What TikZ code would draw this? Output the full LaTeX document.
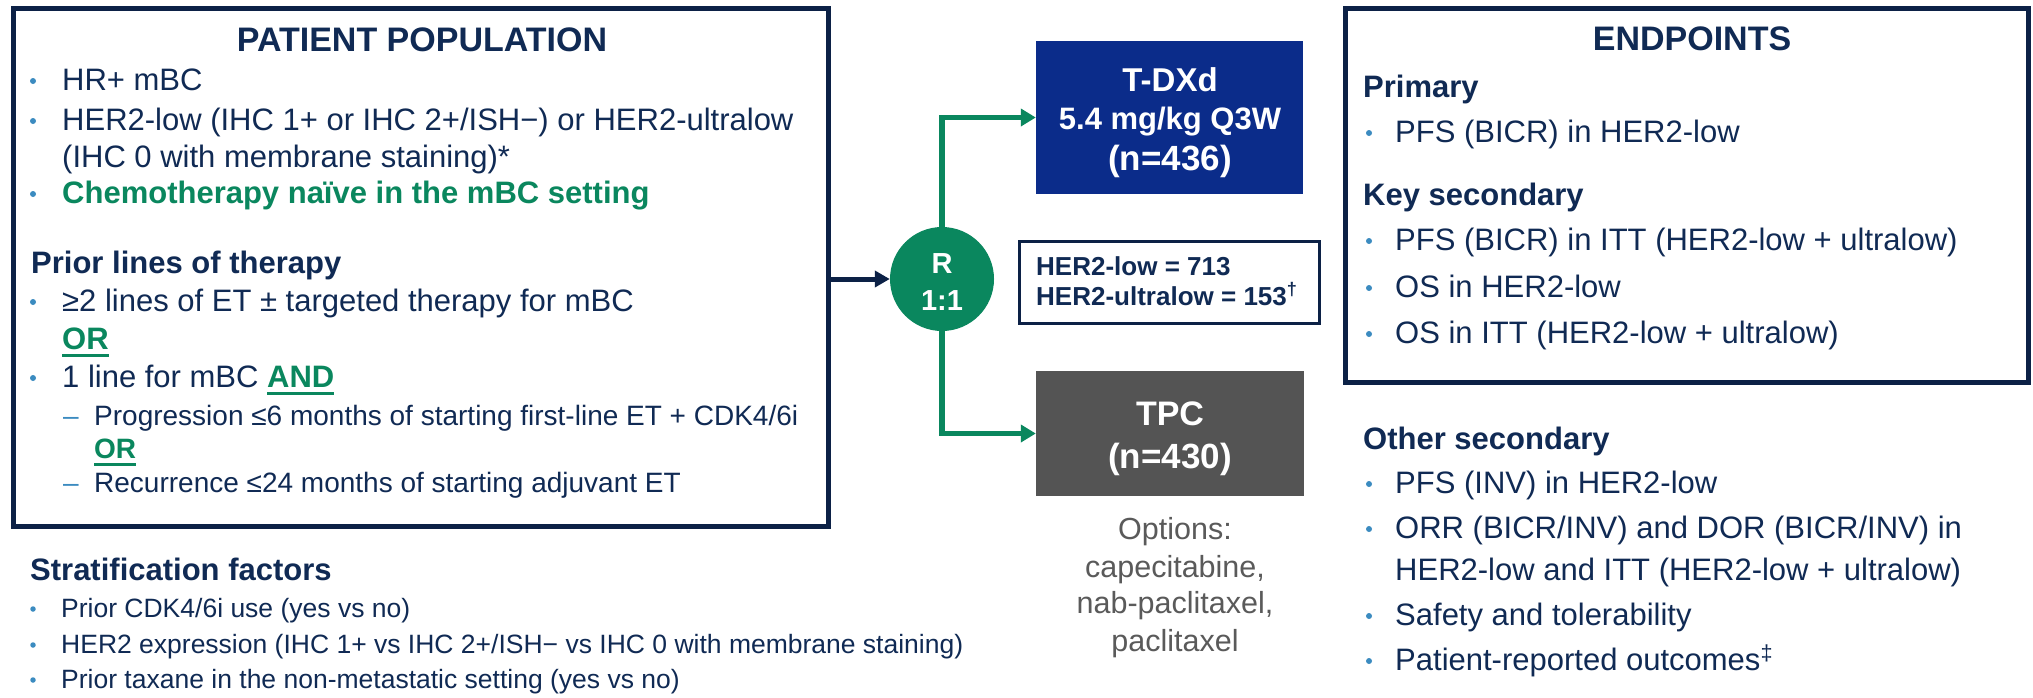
\documentclass[tikz,border=0pt]{standalone}
\usepackage{fontspec}
\setmainfont{Liberation Sans}
\usetikzlibrary{arrows.meta}
\definecolor{navy}{HTML}{102A54}
\definecolor{bord}{HTML}{0C2146}
\definecolor{bulc}{HTML}{3B8BC0}
\definecolor{grn}{HTML}{0A875E}
\definecolor{tblue}{HTML}{0B2C8A}
\definecolor{tgray}{HTML}{545454}
\definecolor{optg}{HTML}{5A5A5A}
\newcommand\grnul[1]{\setbox0\hbox{#1}\rlap{\rule[-8pt]{\wd0}{3pt}}\box0}
\newcommand\fs[1]{\fontsize{#1}{#1}\selectfont}
\begin{document}
\begin{tikzpicture}[x=1pt,y=-1pt,
  panel/.style={draw=bord, line width=5pt, inner sep=0pt},
  t/.style={anchor=base west, inner sep=0pt, text=navy, font=\fs{31}},
  tb/.style={anchor=base west, inner sep=0pt, text=navy, font=\fs{31}\bfseries},
  ts/.style={anchor=base west, inner sep=0pt, text=navy, font=\fs{28}},
  tst/.style={anchor=base west, inner sep=0pt, text=navy, font=\fs{26.5}},
  ttl/.style={anchor=base, inner sep=0pt, text=navy, font=\fs{34}\bfseries},
  wt/.style={anchor=base, inner sep=0pt, text=white, font=\fs{#1}\bfseries},
  opt/.style={anchor=base, inner sep=0pt, text=optg, font=\fs{30.5}},
  bul/.style={fill=bulc},
  navarr/.style={draw=bord, line width=5pt, -{Triangle[length=15pt,width=16pt]}},
  grnarr/.style={draw=grn, line width=5.5pt, -{Triangle[length=15pt,width=17pt]}}
]
\useasboundingbox (0,0) rectangle (2033,697);
\fill[white] (0,0) rectangle (2033,697);

% ---------- Patient population ----------
\node[panel, minimum width=815pt, minimum height=518pt] (lbox) at (420.5,267) {};
\node[ttl] (ltitle) at (422,51) {PATIENT POPULATION};
\fill[bul] (33,81) circle (3pt);
\node[t] (p1) at (62,90) {HR+ mBC};
\fill[bul] (33,121) circle (3pt);
\node[t] (p2) at (62,130) {HER2-low (IHC 1+ or IHC 2+/ISH−) or HER2-ultralow};
\node[t] (p3) at (62,167) {(IHC 0 with membrane staining)*};
\fill[bul] (33,194) circle (3pt);
\node[tb, text=grn] (p4) at (62,203) {Chemotherapy naïve in the mBC setting};
\node[tb] (p5) at (31,273) {Prior lines of therapy};
\fill[bul] (33,302) circle (3pt);
\node[t] (p6) at (62,311) {≥2 lines of ET ± targeted therapy for mBC};
\node[tb, text=grn] (p7) at (62,349) {\grnul{OR}};
\fill[bul] (33,378) circle (3pt);
\node[t] (p8) at (62,387) {1 line for mBC {\bfseries\color{grn}\grnul{AND}}};
\node[ts, text=bulc] (d1) at (63,425) {–};
\node[ts] (p9) at (94,425) {Progression ≤6 months of starting first-line ET + CDK4/6i};
\node[ts, font=\fs{28}\bfseries, text=grn] (p10) at (94,458) {\grnul{OR}};
\node[ts, text=bulc] (d2) at (63,492) {–};
\node[ts] (p11) at (94,492) {Recurrence ≤24 months of starting adjuvant ET};

% ---------- Stratification ----------
\node[tb] (sf) at (30,580) {Stratification factors};
\fill[bul] (33,609) circle (2.75pt);
\node[tst] (s1) at (61,617) {Prior CDK4/6i use (yes vs no)};
\fill[bul] (33,645) circle (2.75pt);
\node[tst] (s2) at (61,653) {HER2 expression (IHC 1+ vs IHC 2+/ISH− vs IHC 0 with membrane staining)};
\fill[bul] (33,680) circle (2.75pt);
\node[tst] (s3) at (61,688) {Prior taxane in the non-metastatic setting (yes vs no)};

% ---------- Randomisation ----------
\node[circle, fill=grn, minimum size=104pt, inner sep=0pt] (rc) at (942,279) {};
\node[wt=29] (r1) at (942,273) {R};
\node[wt=29] (r2) at (942,310) {1:1};

% ---------- Arms ----------
\node[fill=tblue, minimum width=267pt, minimum height=153pt, inner sep=0pt] (tdxd) at (1169.5,117.5) {};
\node[wt=33] (tx1) at (1170,91) {T-DXd};
\node[wt=31] (tx2) at (1170,129) {5.4 mg/kg Q3W};
\node[wt=35] (tx3) at (1170,170) {(n=436)};

\node[draw=bord, line width=3pt, minimum width=300pt, minimum height=82pt, inner sep=0pt] (stats) at (1169,282) {};
\node[anchor=base west, inner sep=0pt, text=navy, font=\fs{26}\bfseries] (st1) at (1036,275) {HER2-low = 713};
\node[anchor=base west, inner sep=0pt, text=navy, font=\fs{26}\bfseries] (st2) at (1036,305) {HER2-ultralow = 153\textsuperscript{†}};

\node[fill=tgray, minimum width=268pt, minimum height=125pt, inner sep=0pt] (tpc) at (1170,433.5) {};
\node[wt=34] (tp1) at (1170,425) {TPC};
\node[wt=35] (tp2) at (1170,468) {(n=430)};

\node[opt] (o1) at (1175,539) {Options:};
\node[opt] (o2) at (1175,577) {capecitabine,};
\node[opt] (o3) at (1175,613) {nab-paclitaxel,};
\node[opt] (o4) at (1175,651) {paclitaxel};

% ---------- Connectors ----------
\draw[navarr] (lbox.east |- rc.west) -- (rc.west);
\draw[grnarr] (rc.north) |- (tdxd.west);
\draw[grnarr] (rc.south) |- (tpc.west);

% ---------- Endpoints ----------
\node[panel, minimum width=683pt, minimum height=374pt] (ebox) at (1686.5,195) {};
\node[ttl] (etitle) at (1692,50) {ENDPOINTS};
\node[tb] (e1) at (1363,97) {Primary};
\fill[bul] (1369,133) circle (3pt);
\node[t] (e2) at (1395,142) {PFS (BICR) in HER2-low};
\node[tb] (e3) at (1363,205) {Key secondary};
\fill[bul] (1369,241) circle (3pt);
\node[t] (e4) at (1395,250) {PFS (BICR) in ITT (HER2-low + ultralow)};
\fill[bul] (1369,288) circle (3pt);
\node[t] (e5) at (1395,297) {OS in HER2-low};
\fill[bul] (1369,334) circle (3pt);
\node[t] (e6) at (1395,343) {OS in ITT (HER2-low + ultralow)};

\node[tb] (e7) at (1363,449) {Other secondary};
\fill[bul] (1369,484) circle (3pt);
\node[t] (e8) at (1395,493) {PFS (INV) in HER2-low};
\fill[bul] (1369,529) circle (3pt);
\node[t] (e9) at (1395,538) {ORR (BICR/INV) and DOR (BICR/INV) in};
\node[t] (e10) at (1395,580) {HER2-low and ITT (HER2-low + ultralow)};
\fill[bul] (1369,616) circle (3pt);
\node[t] (e11) at (1395,625) {Safety and tolerability};
\fill[bul] (1369,661) circle (3pt);
\node[t] (e12) at (1395,670) {Patient-reported outcomes\textsuperscript{‡}};
\end{tikzpicture}
\end{document}
